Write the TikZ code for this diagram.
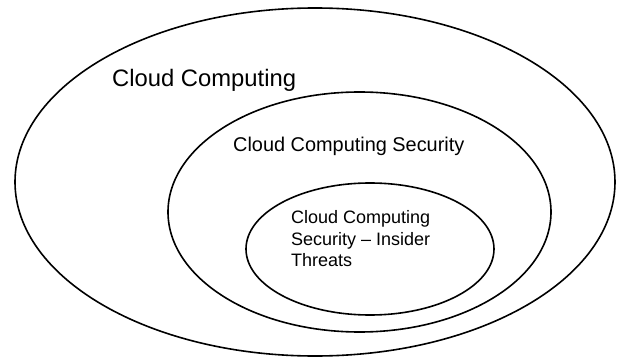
\documentclass[tikz,border=0pt]{standalone}
\usepackage{fontspec}
\setmainfont{Liberation Sans}
\usetikzlibrary{shapes.geometric}
\begin{document}
\begin{tikzpicture}[x=1pt,y=-1pt,
  ring/.style={draw=black, line width=1.6pt, ellipse, inner sep=0pt},
  label/.style={inner sep=0pt, anchor=base west, align=left}]
\useasboundingbox (0,0) rectangle (622,361);
\node[ring, minimum width=600pt, minimum height=348pt] (outer) at (315,182) {};
\node[ring, minimum width=383pt, minimum height=240pt] (middle) at (359.5,212) {};
\node[ring, minimum width=248pt, minimum height=132pt] (inner) at (370,249) {};
\node[label, font=\fontsize{23.8}{28}\selectfont] (t1) at (112,86.5) {Cloud Computing};
\node[label, font=\fontsize{19.9}{24}\selectfont] (t2) at (233,151) {Cloud Computing Security};
\node[label, font=\fontsize{18}{21.5}\selectfont] (t3) at (291,266.5) {Cloud Computing\\Security – Insider\\Threats};
\end{tikzpicture}
\end{document}
